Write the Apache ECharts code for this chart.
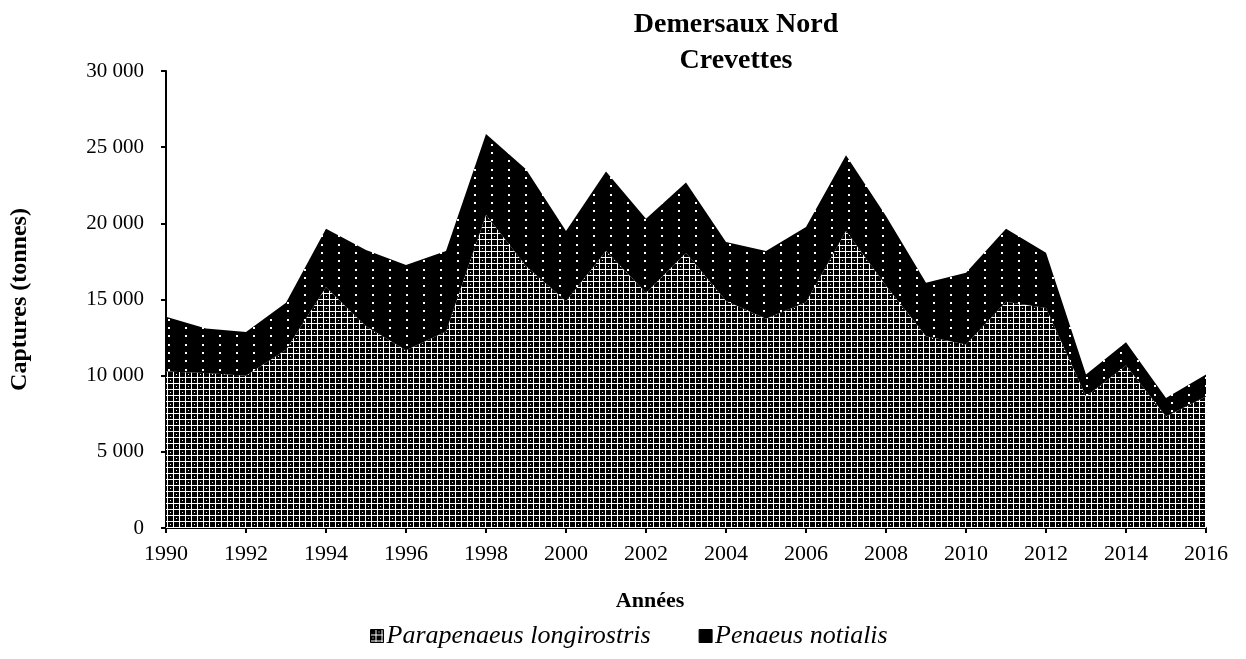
<!DOCTYPE html>
<html>
<head>
<meta charset="utf-8">
<script src="https://cdn.jsdelivr.net/npm/echarts@6/dist/echarts.min.js"></script>
<style>
html,body{margin:0;padding:0;background:#fff;}
#chart{width:1246px;height:659px;}
</style>
</head>
<body>
<div id="chart"></div>
<script>
const years = ['1990','1991','1992','1993','1994','1995','1996','1997','1998','1999','2000','2001','2002','2003','2004','2005','2006','2007','2008','2009','2010','2011','2012','2013','2014','2015','2016'];
const parapenaeus = [10280,10180,10000,11700,15800,13250,11670,12900,20550,17200,14890,18180,15440,18070,14900,13730,14820,19500,15900,12590,12040,14850,14450,8640,10660,7320,8640];
const penaeus = [3580,2910,2870,3080,3850,5000,5590,5280,5310,6350,4610,5220,4860,4610,3870,4450,4940,4970,4580,3510,4710,4800,3620,1430,1530,1210,1430];
const seriesNames = ['Parapenaeus longirostris','Penaeus notialis'];
const titleLines = ['Demersaux Nord','Crevettes'];

function gridPattern(){
  const c = document.createElement('canvas');
  c.width = 12; c.height = 12;
  const g = c.getContext('2d');
  g.fillStyle = '#000'; g.fillRect(0,0,12,12);
  g.fillStyle = '#fff';
  g.fillRect(0,5,12,1); g.fillRect(0,11,12,1);
  g.fillRect(5,0,1,12); g.fillRect(11,0,1,12);
  g.fillRect(8,2,1,1); g.fillRect(2,8,1,1);
  return c;
}
function dotPattern(){
  const c = document.createElement('canvas');
  c.width = 17; c.height = 25;
  const g = c.getContext('2d');
  g.fillStyle = '#000'; g.fillRect(0,0,17,25);
  g.fillStyle = '#fff';
  g.fillRect(15,2,2,2); g.fillRect(15,10,2,2); g.fillRect(15,19,2,2);
  return c;
}
const pat1 = {image: gridPattern(), repeat: 'repeat'};
const pat2 = {image: dotPattern(), repeat: 'repeat'};

const font = '"Liberation Serif", "Times New Roman", serif';
const fmt = v => String(v).replace(/\B(?=(\d{3})+(?!\d))/g, ' ');

const chart = echarts.init(document.getElementById('chart'), null, {renderer:'canvas'});
chart.setOption({
  animation: false,
  backgroundColor: '#fff',
  graphic: [{
    type: 'text', x: 736, y: 7,
    style: {text: titleLines.join('\n'), font: 'bold 28px ' + font, fill: '#000', align: 'center', lineHeight: 36}
  }],
  legend: {
    left: 365, top: 618,
    itemWidth: 13, itemHeight: 13, itemGap: 48,
    icon: 'rect',
    textStyle: {fontFamily: font, fontStyle: 'italic', fontSize: 26, color: '#000', padding: [0,0,0,-2]},
    data: [
      {name: seriesNames[0], itemStyle: {color: pat1, borderColor: '#000', borderWidth: 1}},
      {name: seriesNames[1], itemStyle: {color: pat2, borderColor: '#000', borderWidth: 1}}
    ]
  },
  grid: {left: 166, right: 40, top: 71, bottom: 131, containLabel: false},
  xAxis: {
    type: 'category', data: years, boundaryGap: false,
    name: 'Années', nameLocation: 'middle', nameGap: 62,
    nameTextStyle: {fontFamily: font, fontWeight: 'bold', fontSize: 22, color: '#000', padding: [0, 72, 0, 0]},
    axisLine: {lineStyle: {color: '#000', width: 2}},
    axisTick: {show: true, interval: 1, length: 5, lineStyle: {color: '#000', width: 2}},
    axisLabel: {interval: 1, fontFamily: font, fontSize: 22, color: '#000', margin: 15},
    splitLine: {show: false}
  },
  yAxis: {
    type: 'value', min: 0, max: 30000, interval: 5000,
    name: 'Captures (tonnes)', nameLocation: 'middle', nameGap: 134, nameRotate: 90,
    nameTextStyle: {fontFamily: font, fontWeight: 'bold', fontSize: 24, color: '#000'},
    axisLine: {show: true, lineStyle: {color: '#000', width: 2}},
    axisTick: {show: true, length: 5, lineStyle: {color: '#000', width: 2}},
    axisLabel: {fontFamily: font, fontSize: 21, color: '#000', margin: 22, formatter: fmt},
    splitLine: {show: false}
  },
  series: [
    {
      name: seriesNames[0], type: 'line', stack: 'total', data: parapenaeus,
      showSymbol: false, symbol: 'none',
      lineStyle: {width: 0},
      itemStyle: {color: pat1},
      areaStyle: {color: pat1, opacity: 1}
    },
    {
      name: seriesNames[1], type: 'line', stack: 'total', data: penaeus,
      showSymbol: false, symbol: 'none',
      lineStyle: {width: 0},
      itemStyle: {color: pat2},
      areaStyle: {color: pat2, opacity: 1}
    }
  ]
});
</script>
</body>
</html>
